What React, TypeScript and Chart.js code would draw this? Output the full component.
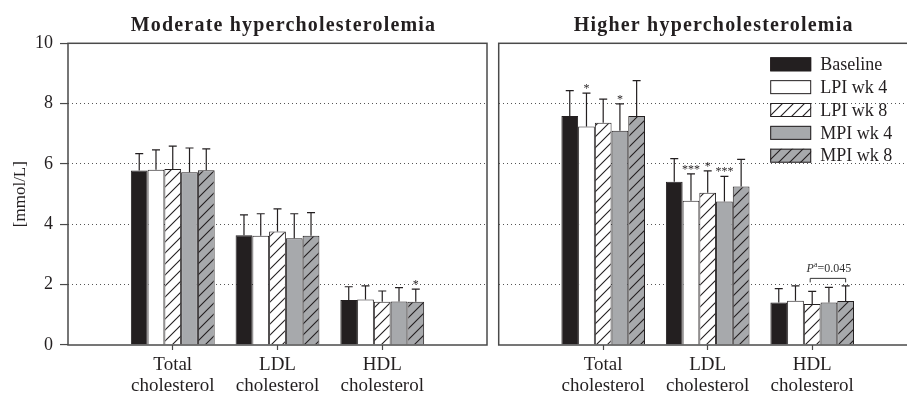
import React, { useEffect, useRef } from 'react';
import { Chart, registerables } from 'chart.js';

Chart.register(...registerables);

// ---------- data ----------
const categories = [
  ['Total', 'cholesterol'],
  ['LDL', 'cholesterol'],
  ['HDL', 'cholesterol'],
];
const seriesNames = ['Baseline', 'LPI wk 4', 'LPI wk 8', 'MPI wk 4', 'MPI wk 8'];
const yTickValues = [0, 2, 4, 6, 8, 10];

// Moderate hypercholesterolemia (means, mmol/L)
const modBaseline = [5.78, 3.64, 1.49];
const modLpi4 = [5.81, 3.62, 1.51];
const modLpi8 = [5.83, 3.76, 1.43];
const modMpi4 = [5.73, 3.54, 1.44];
const modMpi8 = [5.79, 3.62, 1.43];
// SD (upper error bars)
const modBaselineSd = [0.56, 0.67, 0.44];
const modLpi4Sd = [0.66, 0.73, 0.45];
const modLpi8Sd = [0.76, 0.75, 0.36];
const modMpi4Sd = [0.8, 0.81, 0.46];
const modMpi8Sd = [0.71, 0.77, 0.42];
// significance marks
const modBaselineSig = ['', '', ''];
const modLpi4Sig = ['', '', ''];
const modLpi8Sig = ['', '', ''];
const modMpi4Sig = ['', '', ''];
const modMpi8Sig = ['', '', '*'];

// Higher hypercholesterolemia
const hiBaseline = [7.59, 5.41, 1.41];
const hiLpi4 = [7.24, 4.78, 1.47];
const hiLpi8 = [7.37, 5.05, 1.36];
const hiMpi4 = [7.1, 4.76, 1.41];
const hiMpi8 = [7.59, 5.25, 1.46];
const hiBaselineSd = [0.84, 0.77, 0.46];
const hiLpi4Sd = [1.11, 0.89, 0.49];
const hiLpi8Sd = [0.78, 0.72, 0.42];
const hiMpi4Sd = [0.89, 0.83, 0.5];
const hiMpi8Sd = [1.17, 0.9, 0.5];
const hiBaselineSig = ['', '', ''];
const hiLpi4Sig = ['*', '***', ''];
const hiLpi8Sig = ['', '*', ''];
const hiMpi4Sig = ['*', '***', ''];
const hiMpi8Sig = ['', '', ''];
// bracket: HDL, LPI wk 8 vs MPI wk 8
const hiBracketCategory = 2;
const hiBracketFrom = 2;
const hiBracketTo = 4;
const hiBracketValue = '=0.045';

// ---------- styles ----------
const INK = '#231f20';
const GRAY = '#a7a9ac';
const FONT = '"Liberation Serif", "Times New Roman", serif';

function makeHatch(ctx: CanvasRenderingContext2D, bg: string, line: string) {
  const s = 11;
  const c = document.createElement('canvas');
  c.width = s;
  c.height = s;
  const g = c.getContext('2d')!;
  g.fillStyle = bg;
  g.fillRect(0, 0, s, s);
  g.strokeStyle = line;
  g.lineWidth = 1.1;
  g.beginPath();
  g.moveTo(-1, s + 1);
  g.lineTo(s + 1, -1);
  g.moveTo(-3, 3);
  g.lineTo(3, -3);
  g.moveTo(s - 3, s + 3);
  g.lineTo(s + 3, s - 3);
  g.stroke();
  return ctx.createPattern(c, 'repeat');
}

const errorBarPlugin = {
  id: 'errorBars',
  afterDatasetsDraw(chart: any) {
    const { ctx } = chart;
    const y = chart.scales.y;
    chart.data.datasets.forEach((ds: any, di: number) => {
      const meta = chart.getDatasetMeta(di);
      meta.data.forEach((bar: any, i: number) => {
        const v = ds.data[i].y;
        const top = y.getPixelForValue(v + ds.sd[i]);
        ctx.save();
        ctx.strokeStyle = INK;
        ctx.lineWidth = 1.2;
        ctx.beginPath();
        ctx.moveTo(bar.x, bar.y);
        ctx.lineTo(bar.x, top);
        ctx.moveTo(bar.x - 4, top);
        ctx.lineTo(bar.x + 4, top);
        ctx.stroke();
        const sig = ds.sig[i];
        if (sig) {
          ctx.font = `12px ${FONT}`;
          ctx.fillStyle = INK;
          ctx.textAlign = 'center';
          ctx.textBaseline = 'alphabetic';
          ctx.fillText(sig, bar.x, top - 1);
        }
        ctx.restore();
      });
    });
  },
};

const framePlugin = {
  id: 'frame',
  afterDatasetsDraw(chart: any) {
    const { ctx, chartArea: a } = chart;
    ctx.save();
    ctx.strokeStyle = '#4a4a4a';
    ctx.lineWidth = 1.5;
    ctx.strokeRect(a.left, a.top, a.right - a.left, a.bottom - a.top);
    ctx.restore();
  },
};

const titlePlugin = {
  id: 'panelTitle',
  afterDraw(chart: any, _args: any, opts: any) {
    const { ctx, chartArea: a } = chart;
    ctx.save();
    ctx.font = `bold 20px ${FONT}`;
    (ctx as any).letterSpacing = '1.2px';
    ctx.fillStyle = INK;
    ctx.textAlign = 'center';
    ctx.textBaseline = 'alphabetic';
    ctx.fillText(opts.text, (a.left + a.right) / 2 + 6, 31);
    ctx.restore();
  },
};

const legendPlugin = {
  id: 'innerLegend',
  afterDraw(chart: any, _args: any, opts: any) {
    if (!opts.show) return;
    const { ctx, chartArea: a } = chart;
    ctx.save();
    chart.data.datasets.forEach((ds: any, i: number) => {
      const bx = a.left + 271.5;
      const cy = a.top + 21 + i * 22.85;
      ctx.fillStyle = ds.backgroundColor;
      ctx.fillRect(bx, cy - 7, 41, 14);
      ctx.strokeStyle = INK;
      ctx.lineWidth = 1;
      ctx.strokeRect(bx + 0.5, cy - 6.5, 40, 13);
      ctx.fillStyle = INK;
      ctx.font = `18px ${FONT}`;
      ctx.textAlign = 'left';
      ctx.textBaseline = 'middle';
      ctx.fillText(ds.label, bx + 50, cy + 1);
    });
    ctx.restore();
  },
};

const bracketPlugin = {
  id: 'bracket',
  afterDraw(chart: any, _args: any, opts: any) {
    if (!opts.show) return;
    const { ctx } = chart;
    const y = chart.scales.y;
    const c = opts.category;
    const b1 = chart.getDatasetMeta(opts.from).data[c];
    const b2 = chart.getDatasetMeta(opts.to).data[c];
    let maxTop = 0;
    for (let s = opts.from; s <= opts.to; s++) {
      const ds = chart.data.datasets[s];
      maxTop = Math.max(maxTop, ds.data[c].y + ds.sd[c]);
    }
    const by = y.getPixelForValue(maxTop) - 7.5;
    ctx.save();
    ctx.strokeStyle = '#333';
    ctx.lineWidth = 1;
    ctx.beginPath();
    ctx.moveTo(b1.x - 2, by + 4);
    ctx.lineTo(b1.x - 2, by);
    ctx.lineTo(b2.x, by);
    ctx.lineTo(b2.x, by + 4);
    ctx.stroke();
    const cx = (b1.x + b2.x) / 2;
    const ty = by - 6;
    ctx.fillStyle = '#333';
    ctx.textBaseline = 'alphabetic';
    ctx.textAlign = 'left';
    const fP = `italic 12px ${FONT}`;
    const fA = `8px ${FONT}`;
    const fV = `12px ${FONT}`;
    ctx.font = fP;
    const wP = ctx.measureText('P').width;
    ctx.font = fA;
    const wA = ctx.measureText('a').width;
    ctx.font = fV;
    const wV = ctx.measureText(opts.value).width;
    let x = cx - (wP + wA + wV) / 2;
    ctx.font = fP;
    ctx.fillText('P', x, ty);
    x += wP;
    ctx.font = fA;
    ctx.fillText('a', x, ty - 5);
    x += wA;
    ctx.font = fV;
    ctx.fillText(opts.value, x, ty);
    ctx.restore();
  },
};

type PanelProps = {
  title: string;
  means: number[][];
  sds: number[][];
  sigs: string[][];
  left: number;
  width: number;
  yWidth: number;
  padRight: number;
  showYLabels: boolean;
  showLegend: boolean;
  bracket?: { category: number; from: number; to: number; value: string };
};

function Panel(p: PanelProps) {
  const ref = useRef<HTMLCanvasElement | null>(null);
  useEffect(() => {
    const canvas = ref.current!;
    const ctx = canvas.getContext('2d')!;
    const fills: any[] = [
      INK,
      '#ffffff',
      makeHatch(ctx, '#ffffff', INK),
      GRAY,
      makeHatch(ctx, GRAY, INK),
    ];
    const datasets = seriesNames.map((name, si) => ({
      label: name,
      data: p.means[si].map((v, i) => ({ x: i + 1, y: v })),
      sd: p.sds[si],
      sig: p.sigs[si],
      backgroundColor: fills[si],
      borderColor: INK,
      borderWidth: 1,
      categoryPercentage: 0.8,
      barPercentage: 1.0,
    }));
    const chart = new Chart(canvas, {
      type: 'bar',
      data: { datasets } as any,
      options: {
        animation: false,
        responsive: false,
        devicePixelRatio: 1,
        layout: { padding: { left: 0, right: p.padRight, top: 43.3, bottom: 0 } },
        plugins: {
          legend: { display: false },
          title: { display: false },
          tooltip: { enabled: false },
          panelTitle: { text: p.title },
          innerLegend: { show: p.showLegend },
          bracket: p.bracket ? { show: true, ...p.bracket } : { show: false },
        } as any,
        scales: {
          x: {
            type: 'linear',
            min: 0,
            max: categories.length + 1,
            offset: false,
            afterBuildTicks: (scale: any) => {
              scale.ticks = categories.map((_, i) => ({ value: i + 1 }));
            },
            afterFit: (scale: any) => {
              scale.height = 50;
            },
            grid: {
              offset: false,
              drawOnChartArea: false,
              drawTicks: true,
              tickLength: 5,
              tickColor: '#4a4a4a',
              tickWidth: 1.2,
            },
            border: { display: false },
            ticks: {
              autoSkip: false,
              maxRotation: 0,
              padding: 5,
              color: INK,
              font: { family: FONT, size: 19, lineHeight: 1.1 },
              callback: (v: any) => categories[Number(v) - 1] ?? '',
            },
          },
          y: {
            min: 0,
            max: 10,
            afterBuildTicks: (scale: any) => {
              scale.ticks = yTickValues.map((v) => ({ value: v }));
            },
            afterFit: (scale: any) => {
              scale.width = p.yWidth;
            },
            grid: {
              color: (c: any) =>
                c.tick && (c.tick.value === 0 || c.tick.value === 10) ? 'rgba(0,0,0,0)' : '#555555',
              lineWidth: 1.1,
              drawTicks: p.showYLabels,
              tickLength: 8,
              tickColor: '#4a4a4a',
              tickWidth: 1.2,
            },
            border: { display: false, dash: [1, 3] },
            ticks: {
              display: p.showYLabels,
              padding: 7,
              color: INK,
              font: { family: FONT, size: 18 },
            },
            title: {
              display: p.showYLabels,
              text: '[mmol/L]',
              color: INK,
              font: { family: FONT, size: 17 },
              padding: { top: 10, bottom: 0 },
            },
          },
        },
      } as any,
      plugins: [framePlugin, errorBarPlugin, titlePlugin, legendPlugin, bracketPlugin] as any,
    });
    return () => chart.destroy();
  }, []);
  return (
    <canvas
      ref={ref}
      width={p.width}
      height={395}
      style={{ position: 'absolute', left: p.left, top: 0, width: p.width, height: 395 }}
    />
  );
}

export default function App() {
  return (
    <div
      style={{
        position: 'fixed',
        left: 0,
        top: 0,
        width: 907,
        height: 395,
        overflow: 'hidden',
        background: '#ffffff',
      }}
    >
      <Panel
        title="Moderate hypercholesterolemia"
        means={[modBaseline, modLpi4, modLpi8, modMpi4, modMpi8]}
        sds={[modBaselineSd, modLpi4Sd, modLpi8Sd, modMpi4Sd, modMpi8Sd]}
        sigs={[modBaselineSig, modLpi4Sig, modLpi8Sig, modMpi4Sig, modMpi8Sig]}
        left={0}
        width={492}
        yWidth={68}
        padRight={5}
        showYLabels={true}
        showLegend={false}
      />
      <Panel
        title="Higher hypercholesterolemia"
        means={[hiBaseline, hiLpi4, hiLpi8, hiMpi4, hiMpi8]}
        sds={[hiBaselineSd, hiLpi4Sd, hiLpi8Sd, hiMpi4Sd, hiMpi8Sd]}
        sigs={[hiBaselineSig, hiLpi4Sig, hiLpi8Sig, hiMpi4Sig, hiMpi8Sig]}
        left={490}
        width={440}
        yWidth={8.7}
        padRight={13.3}
        showYLabels={false}
        showLegend={true}
        bracket={{ category: hiBracketCategory, from: hiBracketFrom, to: hiBracketTo, value: hiBracketValue }}
      />
    </div>
  );
}
